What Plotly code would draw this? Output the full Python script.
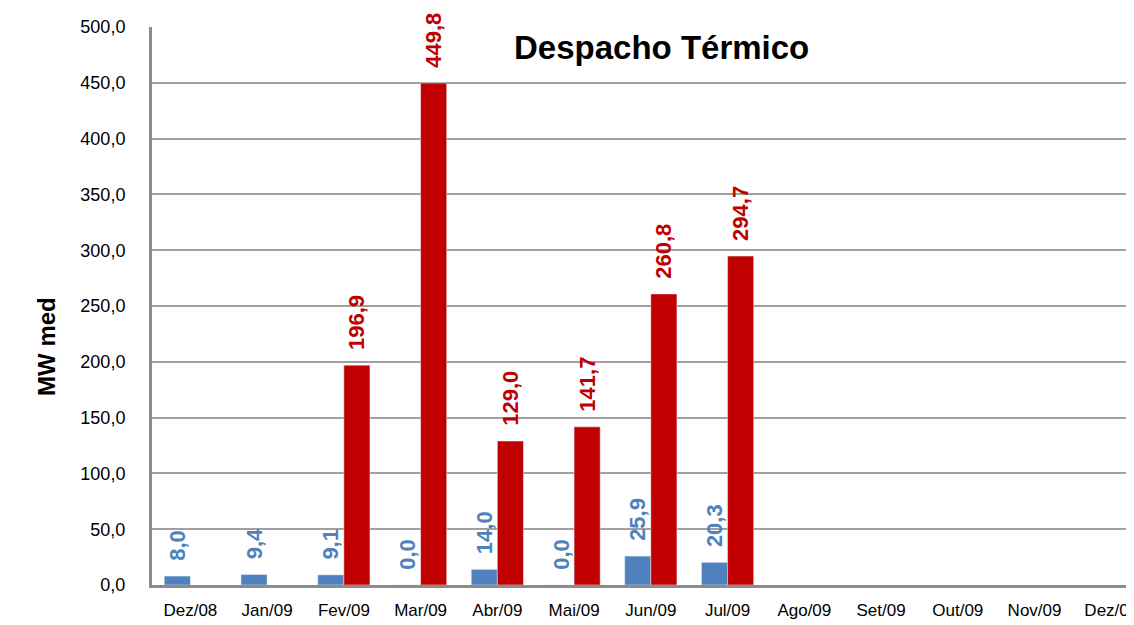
import plotly.graph_objects as go

months = ['Dez/08', 'Jan/09', 'Fev/09', 'Mar/09', 'Abr/09', 'Mai/09', 'Jun/09',
          'Jul/09', 'Ago/09', 'Set/09', 'Out/09', 'Nov/09', 'Dez/09']
blue_vals = [8.0, 9.4, 9.1, 0.0, 14.0, 0.0, 25.9, 20.3, None, None, None, None, None]
red_vals = [None, None, 196.9, 449.8, 129.0, 141.7, 260.8, 294.7, None, None, None, None, None]


def fmt(v):
    # leading nbsp pushes the rotated label a bit away from the bar top
    return '' if v is None else '\u00a0\u00a0' + ('%.1f' % v).replace('.', ',')


narrow = 'Liberation Sans Narrow, Arial Narrow, Liberation Sans, Arial'
sans = 'Liberation Sans, Arial'

fig = go.Figure()
fig.add_trace(go.Bar(x=months, y=blue_vals, name='blue', marker_color='#4F81BD',
                     text=[fmt(v) for v in blue_vals], textposition='outside', textangle=-90,
                     cliponaxis=False, constraintext='none',
                     textfont=dict(color='#4F81BD', size=22, family=sans, weight='bold')))
fig.add_trace(go.Bar(x=months, y=red_vals, name='red', marker_color='#C00000',
                     text=[fmt(v) for v in red_vals], textposition='outside', textangle=-90,
                     cliponaxis=False, constraintext='none',
                     textfont=dict(color='#C00000', size=22, family=sans, weight='bold')))

fig.update_layout(
    width=1134, height=625,
    margin=dict(l=144, r=0, t=19, b=48),
    paper_bgcolor='white', plot_bgcolor='white',
    showlegend=False,
    barmode='group', bargap=0.32, bargroupgap=0,
    separators=',.',
)
fig.update_xaxes(range=[-0.5, 12.4], showline=True, linecolor='#8c8c8c', linewidth=3,
                 tickfont=dict(size=17, family=narrow, color='black'), ticks='',
                 ticklabelstandoff=8, showgrid=False, automargin=False)
fig.update_yaxes(range=[0, 500], dtick=50, tickformat='.1f', showline=True,
                 linecolor='#8c8c8c', linewidth=3, showgrid=True, gridcolor='#a0a0a0',
                 gridwidth=1.5, ticks='', zeroline=False, automargin=False,
                 ticklabelstandoff=20,
                 tickfont=dict(size=18, family=narrow, color='black'))
fig.add_annotation(text='<b>MW med</b>', x=-0.123, y=0.428, xref='paper', yref='paper',
                   textangle=-90, showarrow=False,
                   font=dict(size=24, family=sans, color='black'))
fig.add_annotation(text='<b>Despacho Térmico</b>', x=0.515, y=482, xref='paper', yref='y',
                   showarrow=False, font=dict(size=33, family=sans, color='black'))

fig.write_html('out.html')
